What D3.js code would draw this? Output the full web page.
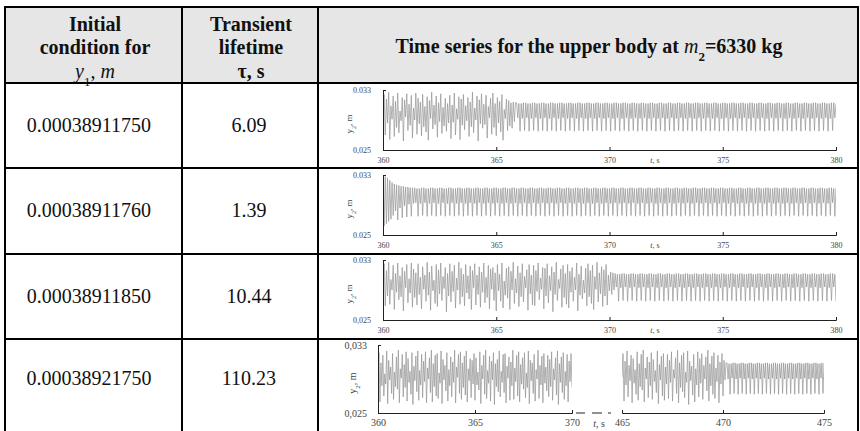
<!DOCTYPE html>
<html><head><meta charset="utf-8">
<script src="https://cdn.jsdelivr.net/npm/d3@7"></script>
<style>body{margin:0;background:#fff}svg{display:block}</style>
</head><body>
<svg id="c" width="860" height="431"></svg>
<script>
// ---------- table content ----------
const initialConditions = ["0.00038911750","0.00038911760","0.00038911850","0.00038921750"];
const lifetimes = ["6.09","1.39","10.44","110.23"];
const yTickTopLabels = ["0.033","0.033","0.033","0,033"];
const yTickBottomLabels = ["0,025","0.025","0,025","0,025"];
const xTicksShort = [360,365,370,375,380];
const xTicksSeg1 = [360,365,370];
const xTicksSeg2 = [465,470,475];
const dt = 0.05;                // sampling step of the typed series, s
const startTimes = [360,360,360,360,465];

// y2 values in millimetres (axis 0.025 .. 0.033 m = 25 .. 33 mm)
const y2Row1Transient = [
 29.3,32.4,27.0,31.8,28.6,32.7,26.4,30.9,29.1,32.2,
 26.8,31.5,28.0,32.6,27.3,30.2,28.9,32.0,26.2,31.7,
 29.4,32.5,27.6,31.1,28.3,32.3,26.6,30.6,29.0,32.6,
 27.1,31.9,28.5,31.4,26.9,32.4,28.1,30.8,27.4,32.1,
 26.3,31.6,29.2,32.7,27.8,31.0,28.4,32.2,26.7,31.3,
 28.8,32.5,27.2,30.7,28.2,31.9,27.5,31.2,28.6,32.3,
 26.5,31.0,28.7,32.6,27.0,30.5,29.1,32.1,26.4,31.8,
 28.3,32.4,27.7,30.9,28.9,32.0,26.8,31.4,28.1,32.7,
 27.3,30.6,29.0,32.2,26.2,31.7,28.5,32.5,27.9,31.1,
 28.4,32.3,26.6,30.8,29.3,31.9,27.1,32.6,28.0,31.2,
 26.9,32.0,28.6,31.5,27.4,32.4,26.3,30.4,29.2,31.8,
 27.6,31.6,28.2,31.3,27.9,31.4,28.8,31.3];
const y2Row1Steady = [
 31.3,29.3,31.2,27.5,31.2,29.2,31.3,27.6,31.3,29.3,31.2,27.5,31.2,29.2,31.3,27.6,
 31.3,29.3,31.2,27.5,31.2,29.2,31.3,27.6,31.3,29.3,31.2,27.5,31.2,29.2,31.3,27.6,
 31.3,29.3,31.2,27.5,31.2,29.2,31.3,27.6,31.3,29.3,31.2,27.5,31.2,29.2,31.3,27.6,
 31.3,29.3,31.2,27.5,31.2,29.2,31.3,27.6,31.3,29.3,31.2,27.5,31.2,29.2,31.3,27.6,
 31.3,29.3,31.2,27.5,31.2,29.2,31.3,27.6,31.3,29.3,31.2,27.5,31.2,29.2,31.3,27.6,
 31.3,29.3,31.2,27.5,31.2,29.2,31.3,27.6,31.3,29.3,31.2,27.5,31.2,29.2,31.3,27.6,
 31.3,29.3,31.2,27.5,31.2,29.2,31.3,27.6,31.3,29.3,31.2,27.5,31.2,29.2,31.3,27.6,
 31.3,29.3,31.2,27.5,31.2,29.2,31.3,27.6,31.3,29.3,31.2,27.5,31.2,29.2,31.3,27.6,
 31.3,29.3,31.2,27.5,31.2,29.2,31.3,27.6,31.3,29.3,31.2,27.5,31.2,29.2,31.3,27.6,
 31.3,29.3,31.2,27.5,31.2,29.2,31.3,27.6,31.3,29.3,31.2,27.5,31.2,29.2,31.3,27.6,
 31.3,29.3,31.2,27.5,31.2,29.2,31.3,27.6,31.3,29.3,31.2,27.5,31.2,29.2,31.3,27.6,
 31.3,29.3,31.2,27.5,31.2,29.2,31.3,27.6,31.3,29.3,31.2,27.5,31.2,29.2,31.3,27.6,
 31.3,29.3,31.2,27.5,31.2,29.2,31.3,27.6,31.3,29.3,31.2,27.5,31.2,29.2,31.3,27.6,
 31.3,29.3,31.2,27.5,31.2,29.2,31.3,27.6,31.3,29.3,31.2,27.5,31.2,29.2,31.3,27.6,
 31.3,29.3,31.2,27.5,31.2,29.2,31.3,27.6,31.3,29.3,31.2,27.5,31.2,29.2,31.3,27.6,
 31.3,29.3,31.2,27.5,31.2,29.2,31.3,27.6,31.3,29.3,31.2,27.5,31.2,29.2,31.3,27.6,
 31.3,29.3,31.2,27.5,31.2,29.2,31.3,27.6,31.3,29.3,31.2,27.5,31.2,29.2,31.3,27.6,
 31.3,29.3,31.2,27.5,31.2,29.2,31.3,27.6,
 31.3,29.3,31.2];

const y2Row2Transient = [
 32.9,26.2,32.8,26.5,32.6,26.8,32.3,27.1,32.0,27.6,31.8,28.2,31.7,27.0,
 31.6,28.6,31.5,27.3,31.5,28.9,31.4,27.4,31.4,29.1,31.3,27.5,31.3,29.2];
const y2Row2Steady = [
 31.3,29.3,31.2,27.5,31.2,29.2,31.3,27.6,31.3,29.3,31.2,27.5,31.2,29.2,31.3,27.6,
 31.3,29.3,31.2,27.5,31.2,29.2,31.3,27.6,31.3,29.3,31.2,27.5,31.2,29.2,31.3,27.6,
 31.3,29.3,31.2,27.5,31.2,29.2,31.3,27.6,31.3,29.3,31.2,27.5,31.2,29.2,31.3,27.6,
 31.3,29.3,31.2,27.5,31.2,29.2,31.3,27.6,31.3,29.3,31.2,27.5,31.2,29.2,31.3,27.6,
 31.3,29.3,31.2,27.5,31.2,29.2,31.3,27.6,31.3,29.3,31.2,27.5,31.2,29.2,31.3,27.6,
 31.3,29.3,31.2,27.5,31.2,29.2,31.3,27.6,31.3,29.3,31.2,27.5,31.2,29.2,31.3,27.6,
 31.3,29.3,31.2,27.5,31.2,29.2,31.3,27.6,31.3,29.3,31.2,27.5,31.2,29.2,31.3,27.6,
 31.3,29.3,31.2,27.5,31.2,29.2,31.3,27.6,31.3,29.3,31.2,27.5,31.2,29.2,31.3,27.6,
 31.3,29.3,31.2,27.5,31.2,29.2,31.3,27.6,31.3,29.3,31.2,27.5,31.2,29.2,31.3,27.6,
 31.3,29.3,31.2,27.5,31.2,29.2,31.3,27.6,31.3,29.3,31.2,27.5,31.2,29.2,31.3,27.6,
 31.3,29.3,31.2,27.5,31.2,29.2,31.3,27.6,31.3,29.3,31.2,27.5,31.2,29.2,31.3,27.6,
 31.3,29.3,31.2,27.5,31.2,29.2,31.3,27.6,31.3,29.3,31.2,27.5,31.2,29.2,31.3,27.6,
 31.3,29.3,31.2,27.5,31.2,29.2,31.3,27.6,31.3,29.3,31.2,27.5,31.2,29.2,31.3,27.6,
 31.3,29.3,31.2,27.5,31.2,29.2,31.3,27.6,31.3,29.3,31.2,27.5,31.2,29.2,31.3,27.6,
 31.3,29.3,31.2,27.5,31.2,29.2,31.3,27.6,31.3,29.3,31.2,27.5,31.2,29.2,31.3,27.6,
 31.3,29.3,31.2,27.5,31.2,29.2,31.3,27.6,31.3,29.3,31.2,27.5,31.2,29.2,31.3,27.6,
 31.3,29.3,31.2,27.5,31.2,29.2,31.3,27.6,31.3,29.3,31.2,27.5,31.2,29.2,31.3,27.6,
 31.3,29.3,31.2,27.5,31.2,29.2,31.3,27.6,31.3,29.3,31.2,27.5,31.2,29.2,31.3,27.6,
 31.3,29.3,31.2,27.5,31.2,29.2,31.3,27.6,31.3,29.3,31.2,27.5,31.2,29.2,31.3,27.6,
 31.3,29.3,31.2,27.5,31.2,29.2,31.3,27.6,31.3,29.3,31.2,27.5,31.2,29.2,31.3,27.6,
 31.3,29.3,31.2,27.5,31.2,29.2,31.3,27.6,31.3,29.3,31.2,27.5,31.2,29.2,31.3,27.6,
 31.3,29.3,31.2,27.5,31.2,29.2,31.3,27.6,31.3,29.3,31.2,27.5,31.2,29.2,31.3,27.6,
 31.3,29.3,31.2,27.5,31.2,29.2,31.3,27.6,31.3,29.3,31.2,27.5,31.2,29.2,31.3,27.6,
 31.3,29.3,31.2,27.5,
 31.3];

const y2Row3Transient = [
 29.4,32.5,26.9,31.6,28.2,32.7,27.1,30.4,29.0,32.3,
 26.4,31.2,28.7,32.6,27.7,30.9,28.1,32.0,26.2,31.5,
 29.3,32.4,27.3,30.5,28.6,32.6,26.7,31.8,28.0,31.3,
 27.0,32.5,28.4,30.7,26.5,32.1,29.1,31.0,27.5,32.7,
 28.3,31.4,26.3,32.2,28.9,30.3,27.2,32.4,26.8,31.7,
 28.5,32.6,27.6,30.8,29.2,32.0,26.1,31.2,28.2,32.5,
 27.4,31.5,28.8,32.3,26.6,30.6,29.0,32.7,27.1,31.9,
 28.1,31.1,26.9,32.4,28.6,30.9,27.8,32.2,26.4,31.6,
 29.3,32.5,27.0,31.0,28.4,32.1,26.7,31.4,28.7,32.6,
 27.3,30.7,28.0,32.3,26.5,31.8,29.1,32.0,27.6,31.3,
 26.2,32.4,28.9,31.1,27.5,32.6,26.6,30.2,28.3,31.9,
 27.9,32.1,26.4,31.5,29.0,32.7,27.2,30.5,28.6,32.2,
 26.8,31.3,28.1,32.5,27.4,30.8,29.3,31.7,26.3,32.4,
 28.5,31.0,27.0,32.3,26.9,31.6,28.8,32.6,27.7,30.6,
 29.1,32.0,26.5,31.9,28.2,32.5,27.3,30.9,28.9,32.1,
 26.1,31.4,28.4,32.7,27.6,30.4,29.2,31.8,26.7,32.3,
 28.0,31.2,27.1,32.4,26.6,31.5,28.7,32.0,27.5,30.7,
 29.0,32.6,26.2,31.1,28.3,32.2,27.8,30.3,28.6,31.9,
 26.9,32.5,28.1,31.6,27.2,32.3,26.4,30.8,29.1,32.7,
 27.4,31.3,28.5,32.1,26.8,31.7,28.2,32.4,27.0,31.0,
 28.9,31.4,28.4,31.3,29.0];
const y2Row3Steady = [
 31.2,29.4,31.1,27.5,31.1,29.3,31.2,27.6,31.2,29.4,31.1,27.5,31.1,29.3,31.2,27.6,
 31.2,29.4,31.1,27.5,31.1,29.3,31.2,27.6,31.2,29.4,31.1,27.5,31.1,29.3,31.2,27.6,
 31.2,29.4,31.1,27.5,31.1,29.3,31.2,27.6,31.2,29.4,31.1,27.5,31.1,29.3,31.2,27.6,
 31.2,29.4,31.1,27.5,31.1,29.3,31.2,27.6,31.2,29.4,31.1,27.5,31.1,29.3,31.2,27.6,
 31.2,29.4,31.1,27.5,31.1,29.3,31.2,27.6,31.2,29.4,31.1,27.5,31.1,29.3,31.2,27.6,
 31.2,29.4,31.1,27.5,31.1,29.3,31.2,27.6,31.2,29.4,31.1,27.5,31.1,29.3,31.2,27.6,
 31.2,29.4,31.1,27.5,31.1,29.3,31.2,27.6,31.2,29.4,31.1,27.5,31.1,29.3,31.2,27.6,
 31.2,29.4,31.1,27.5,31.1,29.3,31.2,27.6,31.2,29.4,31.1,27.5,31.1,29.3,31.2,27.6,
 31.2,29.4,31.1,27.5,31.1,29.3,31.2,27.6,31.2,29.4,31.1,27.5,31.1,29.3,31.2,27.6,
 31.2,29.4,31.1,27.5,31.1,29.3,31.2,27.6,31.2,29.4,31.1,27.5,31.1,29.3,31.2,27.6,
 31.2,29.4,31.1,27.5,31.1,29.3,31.2,27.6,31.2,29.4,31.1,27.5,31.1,29.3,31.2,27.6,
 31.2,29.4,31.1,27.5,31.1,29.3,31.2,27.6,31.2,29.4,31.1,27.5,31.1,29.3,31.2,27.6,
 31.2,29.4,31.1,27.5];

const y2Row4Seg1 = [
 29.0,32.1,26.3,30.9,28.2,31.8,27.0,29.6,28.4,32.3,
 26.1,31.2,28.9,30.4,27.3,32.0,26.6,29.8,28.1,31.6,
 27.8,32.4,26.2,30.2,29.1,31.9,26.9,30.7,28.0,32.2,
 26.4,31.4,28.6,29.9,27.2,32.1,26.0,30.5,28.8,31.7,
 27.5,32.3,26.5,30.0,28.3,31.9,26.8,31.1,28.7,32.2,
 26.2,30.3,29.0,31.5,27.4,32.4,26.3,30.8,28.1,31.8,
 27.0,32.0,26.7,29.7,28.5,32.3,26.1,31.3,28.9,30.6,
 27.6,32.1,26.4,30.1,28.2,31.6,26.9,31.0,28.6,32.4,
 26.2,30.4,29.2,31.9,27.3,32.2,26.6,30.9,28.0,31.7,
 27.1,32.3,26.3,30.2,28.8,31.4,26.8,31.2,28.4,32.0,
 26.5,31.5,28.3,29.8,27.7,32.2,26.1,30.6,29.0,31.8,
 27.2,32.4,26.7,30.0,28.5,31.7,26.4,31.1,28.9,32.1,
 26.0,30.8,28.1,31.3,27.5,32.3,26.9,29.9,28.6,31.9,
 27.4,32.0,26.2,30.5,29.1,31.6,26.5,31.0,28.2,32.4,
 26.6,30.3,28.7,31.8,27.0,32.2,26.3,30.7,28.4,31.5,
 27.8,32.1,26.8,29.7,28.0,32.3,26.1,31.2,28.8,30.9,
 27.3,31.9,26.4,30.1,29.0,32.4,26.7,30.6,28.3,31.7,
 26.2,32.0,28.5,30.4,27.6,31.8,26.9,31.3,28.1,32.2,
 26.5,30.2,28.9,31.5,27.1,32.3,26.0,30.8,28.6,31.6,
 27.4,32.1,26.6,29.9,28.2,31.9,26.3,31.1,28.7,32.0,
 28.0];
const y2Row4Seg2Transient = [
 29.2,32.0,26.4,31.1,28.3,32.3,26.9,30.6,28.8,31.8,
 26.2,31.4,28.5,30.1,27.2,32.2,26.5,30.8,28.1,31.9,
 27.7,32.4,26.3,30.3,29.0,31.6,26.8,31.0,28.2,32.1,
 26.6,31.3,28.7,30.0,27.4,32.3,26.1,30.7,28.9,31.7,
 27.0,32.0,26.5,30.4,28.4,31.9,26.7,31.2,28.6,32.2,
 26.4,30.1,29.1,31.5,27.3,32.4,26.2,30.9,28.0,31.8,
 27.5,32.1,26.8,29.8,28.6,32.3,26.0,31.1,28.8,30.5,
 27.1,31.9,26.3,30.2,28.3,32.2,26.9,31.4,28.5,32.0,
 26.6,30.6,29.0,31.6,27.6,32.4,26.4,30.8,28.2,31.7,
 27.2,32.1,26.7,30.3,28.7,31.8,26.2,31.0,28.4,32.0,
 27.0,31.2,28.9,30.9];
const y2Row4Seg2Steady = [
 30.9,29.0,30.8,27.2,30.8,29.1,30.9,27.3,30.9,29.0,30.8,27.2,30.8,29.1,30.9,27.3,
 30.9,29.0,30.8,27.2,30.8,29.1,30.9,27.3,30.9,29.0,30.8,27.2,30.8,29.1,30.9,27.3,
 30.9,29.0,30.8,27.2,30.8,29.1,30.9,27.3,30.9,29.0,30.8,27.2,30.8,29.1,30.9,27.3,
 30.9,29.0,30.8,27.2,30.8,29.1,30.9,27.3,30.9,29.0,30.8,27.2,30.8,29.1,30.9,27.3,
 30.9,29.0,30.8,27.2,30.8,29.1,30.9,27.3,30.9,29.0,30.8,27.2,30.8,29.1,30.9,27.3,
 30.9,29.0,30.8,27.2,30.8,29.1,30.9,27.3,30.9,29.0,30.8,27.2,30.8,29.1,30.9,27.3,
 30.9];

const seriesRows = [
  y2Row1Transient.concat(y2Row1Steady),
  y2Row2Transient.concat(y2Row2Steady),
  y2Row3Transient.concat(y2Row3Steady)
];
const seriesRow4a = y2Row4Seg1;
const seriesRow4b = y2Row4Seg2Transient.concat(y2Row4Seg2Steady);

// ---------- layout ----------
const svg = d3.select("#c");
const serif = "'Liberation Serif','Times New Roman',Times,serif";
const colX = [5,182,318,858];
const rowY = [7,83,168,254,339,450];
const lineColor = "#939393";

svg.append("rect").attr("x",colX[0]).attr("y",rowY[0])
  .attr("width",colX[3]-colX[0]).attr("height",rowY[1]-rowY[0]).attr("fill","#e6e6e6");

// header text
const hdr = svg.append("g").attr("font-family",serif).attr("font-weight","bold")
  .attr("font-size",20).attr("text-anchor","middle").attr("fill","#111");
hdr.append("text").attr("x",95).attr("y",31).text("Initial");
hdr.append("text").attr("x",95).attr("y",54).text("condition for");
const h3 = hdr.append("text").attr("x",95).attr("y",78);
h3.append("tspan").attr("font-style","italic").attr("font-weight","normal").text("y");
h3.append("tspan").attr("font-size",13).attr("font-weight","normal").attr("baseline-shift","sub").text("1");
h3.append("tspan").attr("font-weight","normal").text(", ");
h3.append("tspan").attr("font-style","italic").attr("font-weight","normal").text("m");
hdr.append("text").attr("x",251).attr("y",31).text("Transient");
hdr.append("text").attr("x",251).attr("y",54).text("lifetime");
hdr.append("text").attr("x",251).attr("y",78).text("τ, s");
const ht = hdr.append("text").attr("x",589).attr("y",53);
ht.append("tspan").text("Time series for the upper body at ");
ht.append("tspan").attr("font-style","italic").attr("font-weight","normal").text("m");
ht.append("tspan").attr("font-size",13).attr("baseline-shift","sub").text("2");
ht.append("tspan").text("=6330 kg");

// body text
const baselines = [132,217,303,385];
const body = svg.append("g").attr("font-family",serif).attr("font-size",20)
  .attr("text-anchor","middle").attr("fill","#111");
initialConditions.forEach((s,i)=> body.append("text").attr("x",89).attr("y",baselines[i]).text(s));
lifetimes.forEach((s,i)=> body.append("text").attr("x",249).attr("y",baselines[i]).text(s));

// ---------- charts ----------
function styleAxis(g, size){
  g.attr("font-family",serif).attr("font-size",size);
  g.selectAll("path,line").attr("stroke","#222").attr("stroke-width",1);
  g.selectAll("text").attr("fill","#444");
}
function yLabel(x, y, size){
  const t = svg.append("text").attr("transform",`translate(${x},${y}) rotate(-90)`)
    .attr("text-anchor","middle").attr("font-family",serif).attr("font-size",size).attr("fill","#444");
  t.append("tspan").text("y");
  t.append("tspan").attr("font-size",size*0.7).attr("baseline-shift","sub").text("2");
  t.append("tspan").text(", m");
}
function tsLabel(x, y, size){
  const t = svg.append("text").attr("x",x).attr("y",y).attr("text-anchor","middle")
    .attr("font-family",serif).attr("font-size",size).attr("fill","#444");
  t.append("tspan").attr("font-style","italic").text("t");
  t.append("tspan").text(", s");
}
let clipId = 0;
function drawSeries(values, t0, x, y){
  const [x0,x1] = x.range(), [yb,yt] = y.range();
  const id = "clip"+(clipId++);
  svg.append("clipPath").attr("id",id).append("rect")
    .attr("x",x0).attr("y",yt-2).attr("width",x1-x0).attr("height",yb-yt+1);
  const line = d3.line().x((d,i)=>x(t0+i*dt)).y(d=>y(d));
  svg.append("path").datum(values).attr("clip-path",`url(#${id})`)
    .attr("d",line).attr("fill","none").attr("stroke",lineColor).attr("stroke-width",0.7);
}

const tops = [90,175,260], bottoms = [150,235,320];
seriesRows.forEach((vals,i)=>{
  const x = d3.scaleLinear().domain([360,380]).range([383,836]);
  const y = d3.scaleLinear().domain([25,33]).range([bottoms[i],tops[i]]);
  drawSeries(vals, startTimes[i], x, y);
  const ya = svg.append("g").attr("transform","translate(383,0)")
    .call(d3.axisLeft(y).tickValues([25,33]).tickSize(-3).tickSizeOuter(-3).tickPadding(12)
      .tickFormat(d=> d===33 ? yTickTopLabels[i] : yTickBottomLabels[i]));
  styleAxis(ya,8);
  const xa = svg.append("g").attr("transform",`translate(0,${bottoms[i]})`)
    .call(d3.axisBottom(x).tickValues(xTicksShort).tickSize(-3).tickSizeOuter(-3).tickPadding(7)
      .tickFormat(d3.format("d")));
  styleAxis(xa,8);
  yLabel(352,(tops[i]+bottoms[i])/2+4,9);
  tsLabel(655,bottoms[i]+13,8);
});

// row 4 (broken time axis)
{
  const y = d3.scaleLinear().domain([25,33]).range([413,345]);
  const xa = d3.scaleLinear().domain([360,370]).range([378,572]);
  const xb = d3.scaleLinear().domain([465,475]).range([622,824]);
  drawSeries(seriesRow4a, startTimes[3], xa, y);
  drawSeries(seriesRow4b, startTimes[4], xb, y);
  const ya = svg.append("g").attr("transform","translate(378,0)")
    .call(d3.axisLeft(y).tickValues([25,33]).tickSize(-3).tickSizeOuter(-3).tickPadding(11)
      .tickFormat(d=> d===33 ? yTickTopLabels[3] : yTickBottomLabels[3]));
  styleAxis(ya,10);
  const g1 = svg.append("g").attr("transform","translate(0,413)")
    .call(d3.axisBottom(xa).tickValues(xTicksSeg1).tickSize(-3).tickSizeOuter(-3).tickPadding(6)
      .tickFormat(d3.format("d")));
  styleAxis(g1,10);
  const g2 = svg.append("g").attr("transform","translate(0,413)")
    .call(d3.axisBottom(xb).tickValues(xTicksSeg2).tickSize(-3).tickSizeOuter(-3).tickPadding(6)
      .tickFormat(d3.format("d")));
  styleAxis(g2,10);
  svg.append("line").attr("x1",576).attr("x2",612).attr("y1",413).attr("y2",413)
    .attr("stroke","#222").attr("stroke-width",1).attr("stroke-dasharray","9,7,10,6,3,40");
  yLabel(356,383,10);
  tsLabel(599,427,10);
}

// table rules
const rules = svg.append("g").attr("stroke","#000").attr("stroke-width",2);
rowY.forEach(y=> rules.append("line").attr("x1",colX[0]-1).attr("x2",colX[3]+1).attr("y1",y).attr("y2",y));
colX.forEach(x=> rules.append("line").attr("x1",x).attr("x2",x).attr("y1",rowY[0]-1).attr("y2",rowY[5]));
</script>
</body></html>
